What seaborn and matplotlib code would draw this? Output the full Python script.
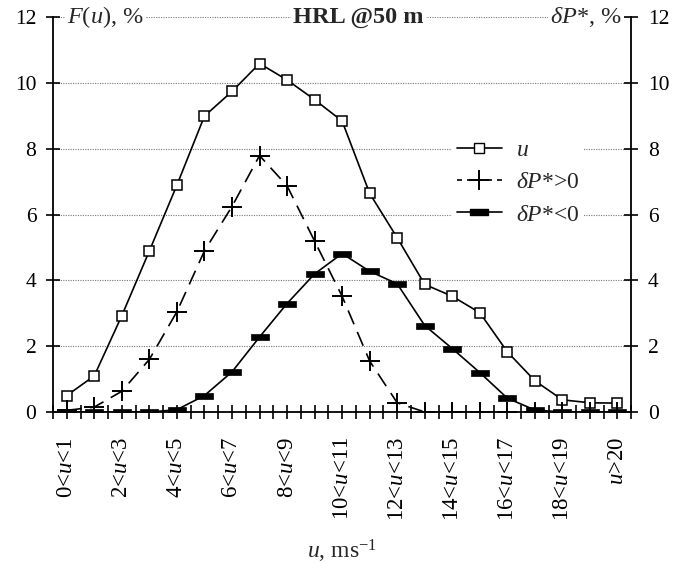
import numpy as np
import pandas as pd
import matplotlib
matplotlib.use("Agg")
import matplotlib.pyplot as plt
from matplotlib.lines import Line2D
from matplotlib.path import Path
import seaborn as sns

# wind speed bins (m/s)
bins = ["0<$u$<1", "1<$u$<2", "2<$u$<3", "3<$u$<4", "4<$u$<5", "5<$u$<6", "6<$u$<7",
        "7<$u$<8", "8<$u$<9", "9<$u$<10", "10<$u$<11", "11<$u$<12", "12<$u$<13",
        "13<$u$<14", "14<$u$<15", "15<$u$<16", "16<$u$<17", "17<$u$<18", "18<$u$<19",
        "19<$u$<20", "$u$>20"]

# frequency of u, %
freq_u = [0.5, 1.1, 2.93, 4.9, 6.9, 9.0, 9.75, 10.6, 10.1, 9.5, 8.85, 6.65, 5.3,
          3.88, 3.52, 3.02, 1.83, 0.95, 0.37, 0.28, 0.27]
# dP* > 0, %
dp_pos = [0.05, 0.15, 0.63, 1.6, 3.05, 4.9, 6.25, 7.8, 6.88, 5.2, 3.52, 1.55, 0.28,
          0.0, 0.0, 0.0, 0.0, 0.0, 0.0, 0.0, 0.0]
# dP* < 0, %
dp_neg = [0.0, 0.0, 0.0, 0.0, 0.07, 0.5, 1.22, 2.28, 3.3, 4.2, 4.82, 4.28, 3.9,
          2.63, 1.93, 1.2, 0.42, 0.06, 0.0, 0.0, 0.0]

label_every = 2

sns.set_theme(style="white")
plt.rcParams["font.family"] = ["Liberation Serif", "DejaVu Serif"]
plt.rcParams["mathtext.fontset"] = "custom"
plt.rcParams["mathtext.rm"] = "Liberation Serif"
plt.rcParams["mathtext.it"] = "Liberation Serif:italic"
plt.rcParams["mathtext.bf"] = "Liberation Serif:bold"

df = pd.DataFrame({"pos": np.arange(len(bins)), "u": freq_u,
                   "pos_dp": dp_pos, "neg_dp": dp_neg})

# flat black bar marker
bar = Path([(-1, -0.36), (1, -0.36), (1, 0.36), (-1, 0.36), (-1, -0.36)],
           [Path.MOVETO, Path.LINETO, Path.LINETO, Path.LINETO, Path.CLOSEPOLY])

fig = plt.figure(figsize=(6.74, 5.64), dpi=100)
ax = fig.add_axes([0.0786, 0.2695, 0.858, 0.6995])

ax.yaxis.grid(True, color="#777777", ls=(0, (1, 1.2)), lw=0.8)
ax.set_axisbelow(True)

sns.lineplot(data=df, x="pos", y="u", ax=ax, color="black", lw=1.2,
             marker="s", markersize=7, markerfacecolor="white",
             markeredgecolor="black", markeredgewidth=1.1, zorder=3)
sns.lineplot(data=df, x="pos", y="pos_dp", ax=ax, color="black", lw=1.2,
             ls=(0, (9, 5)), marker="+", markersize=14, markeredgecolor="black",
             markeredgewidth=1.4, zorder=3)
sns.lineplot(data=df, x="pos", y="neg_dp", ax=ax, color="black", lw=1.2,
             marker=bar, markersize=13, markerfacecolor="black",
             markeredgecolor="black", markeredgewidth=0.5, zorder=3)

ax.set_xlim(-0.5, len(bins) - 0.5)
ax.set_ylim(0, 12)
ax.set_yticks(np.arange(0, 13, 2))
ax.set_yticklabels([str(v) for v in range(0, 13, 2)])

idx = [i for i in range(len(bins)) if i % label_every == 0]
ax.set_xticks(idx)
ax.set_xticklabels([bins[i] for i in idx], rotation=90, va="top")
ax.set_xticks(np.arange(-0.5, len(bins), 0.5), minor=True)

ax.spines["top"].set_visible(False)
for s in ["left", "right", "bottom"]:
    ax.spines[s].set_color("black")
    ax.spines[s].set_linewidth(1.3)

ax.tick_params(axis="y", which="both", direction="inout", length=10, width=1.2,
               left=True, right=True, labelleft=True, labelright=True,
               labelsize=15.5, colors="black", pad=7)
ax.tick_params(axis="x", which="both", direction="inout", length=10, width=1.2,
               bottom=True, labelsize=16.5, colors="black", pad=13)

ax.set_xlabel("$u$, ms$^{-1}$", fontsize=17, labelpad=12)
ax.set_ylabel("")

box = dict(facecolor="white", edgecolor="none", pad=1.5)
ax.text(-0.0, 12, "$F$($u$), %", fontsize=17.5, ha="left", va="center", bbox=box)
ax.text(10.6, 12, "HRL @50 m", fontsize=17.5, fontweight="bold", ha="center",
        va="center", bbox=box)
ax.text(20.15, 12, r"$\delta P$*, %", fontsize=17.5, ha="right", va="center", bbox=box)

handles = [
    Line2D([], [], color="black", lw=1.2, marker="s", markersize=7,
           markerfacecolor="white", markeredgecolor="black"),
    Line2D([], [], color="black", lw=1.2, ls=(0, (3, 3)), marker="+",
           markersize=14, markeredgewidth=1.4),
    Line2D([], [], color="black", lw=1.2, marker=bar, markersize=13,
           markerfacecolor="black"),
]
labels = ["$u$", r"$\delta P$*>0", r"$\delta P$*<0"]
leg = ax.legend(handles, labels, loc="upper left", bbox_to_anchor=(0.69, 0.702),
                frameon=True, fontsize=17, handlelength=1.9, handletextpad=0.6,
                labelspacing=0.45, borderpad=0.2, borderaxespad=0)
leg.get_frame().set_facecolor("white")
leg.get_frame().set_edgecolor("none")
leg.get_frame().set_alpha(1)

fig.savefig("out.png", dpi=100)
